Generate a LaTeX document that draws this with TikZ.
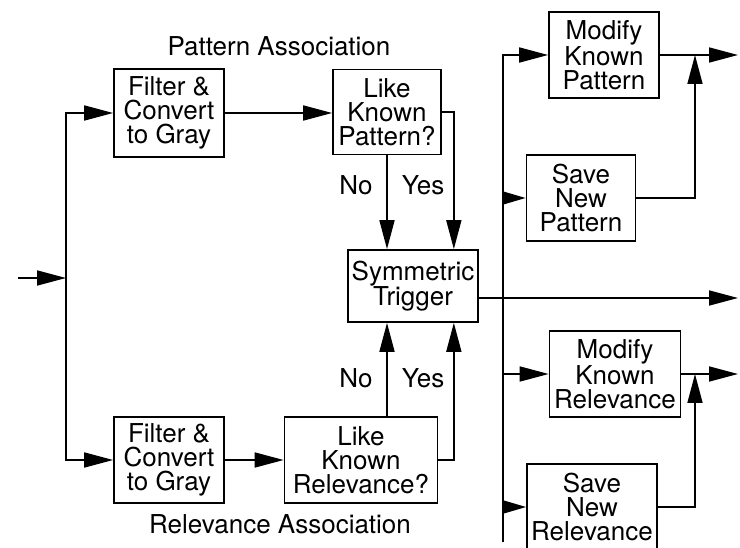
\documentclass[tikz,border=0pt]{standalone}
\usepackage{fontspec}
\setmainfont{TeX Gyre Heros}
\usetikzlibrary{arrows.meta}

\begin{document}
\begin{tikzpicture}[x=1pt, y=-1pt, line width=1.7pt,
    caja/.style={draw, align=center, inner sep=0pt, minimum width=110pt, minimum height=86pt, font=\fontsize{26}{24}\selectfont},
    etiq/.style={font=\fontsize{26}{24}\selectfont},
    flecha/.style={-{Triangle[length=29pt,width=15pt]}},
    corta/.style={-{Triangle[length=23pt,width=13pt]}}]
    \useasboundingbox (0,0) rectangle (740,548);

    \node[caja, minimum height=88pt] (FP) at (169,113) {Filter \&\\Convert\\to Gray};
    \node[caja] (FR) at (169,460) {Filter \&\\Convert\\to Gray};
    \node[caja, minimum width=108pt, minimum height=85pt] (LP) at (387,112) {Like\\Known\\Pattern?};
    \node[caja, minimum width=153pt] (LR) at (361,460) {Like\\Known\\Relevance?};
    \node[caja, minimum width=130pt, minimum height=72pt] (ST) at (413,286) {Symmetric\\Trigger};
    \node[caja] (MP) at (604,55) {Modify\\Known\\Pattern};
    \node[caja, minimum width=109pt] (SP) at (581,198) {Save\\New\\Pattern};
    \node[caja, minimum width=131pt] (MR) at (615,374) {Modify\\Known\\Relevance};
    \node[caja, minimum width=130pt] (SR) at (592,507) {Save\\New\\Relevance};

    \node[etiq] (PA) at (279,46) {Pattern Association};
    \node[etiq] (RA) at (280,524) {Relevance Association};
    \node[etiq] (NoP) at (356,185) {No};
    \node[etiq] (YesP) at (423,185) {Yes};
    \node[etiq] (NoR) at (356,378) {No};
    \node[etiq] (YesR) at (423,378) {Yes};

    \coordinate (in) at (18,278);
    \coordinate (J1) at (66,278);
    \coordinate (J2) at (503,298);
    \coordinate (fin) at (503,542);
    \coordinate (M1) at (695,55);
    \coordinate (M2) at (695,374);
    \coordinate (O1) at (738,55);
    \coordinate (O2) at (738,298);
    \coordinate (O3) at (738,374);

    \draw[flecha] (in) -- (J1);
    \draw[flecha] (J1) |- (FP.west);
    \draw[flecha] (J1) |- (FR.west);
    \draw[flecha] (FP.east) -- (FP.east -| LP.west);
    \draw[flecha] (FR.east) -- (LR.west);

    \draw[flecha] (LP.south) -- (LP.south |- ST.north);
    \draw[flecha] (LP.east) -| ([xshift=-25pt]ST.north east);
    \draw[flecha] (LR.north -| LP.south) -- (LP.south |- ST.south);
    \draw[flecha] (LR.east) -| ([xshift=-25pt]ST.south east);

    \draw[flecha] ([yshift=-12pt]ST.east) -- (O2);
    \draw[flecha] (J2) |- (MP.west);
    \draw[corta] (J2) |- (SP.west);
    \draw[flecha] (J2) |- (MR.west);
    \draw[corta] (J2) |- (SR.west);
    \draw (J2) -- (fin);

    \draw[flecha] (MP.east) -- (O1);
    \draw[flecha] (SP.east) -| (M1);
    \draw[flecha] (MR.east) -- (O3);
    \draw[flecha] (SR.east) -| (M2);
\end{tikzpicture}
\end{document}
